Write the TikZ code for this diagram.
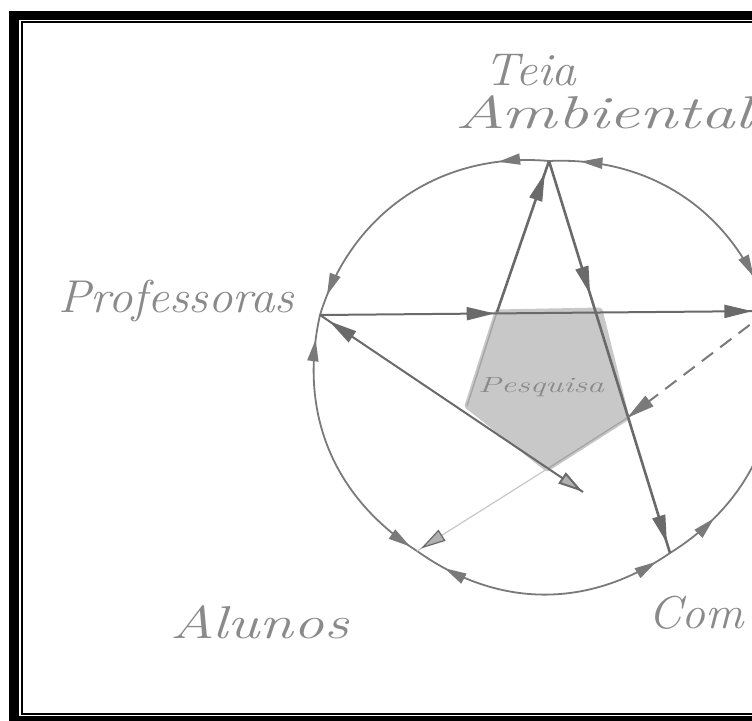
\documentclass[tikz,border=0pt]{standalone}
\usepackage{graphicx}
\usetikzlibrary{arrows.meta,decorations.markings}
\definecolor{inkc}{HTML}{6A6A6A}
\definecolor{arcc}{HTML}{7A7A7A}
\definecolor{txtc}{HTML}{8A8A8A}
\definecolor{shadec}{HTML}{C8C8C8}
\definecolor{faintc}{HTML}{C8C8C8}
\definecolor{holc}{HTML}{B0B0B0}
\begin{document}
\begin{tikzpicture}[x=1pt,y=-1pt,
  harc/.tip={Triangle[length=22pt,width=11pt]},
  hstar/.tip={Triangle[length=28pt,width=13pt]},
  hhol/.tip={Triangle[length=25pt,width=13pt,fill=holc]},
  fw/.style={postaction={decorate,decoration={markings,mark=at position #1 with {\arrow{harc}}}}},
  bw/.style={postaction={decorate,decoration={markings,mark=at position #1 with {\arrowreversed{harc}}}}},
  sfw/.style={postaction={decorate,decoration={markings,mark=at position #1 with {\arrow{hstar}}}}},
  sbw/.style={postaction={decorate,decoration={markings,mark=at position #1 with {\arrowreversed{hstar}}}}},
  hfw/.style={postaction={decorate,decoration={markings,mark=at position #1 with {\arrow[inkc]{hhol}}}}},
  rim/.style={draw=arcc, line width=1.8pt},
  starline/.style={draw=inkc, line width=2.6pt},
  thinstar/.style={draw=inkc, line width=2pt},
  dashline/.style={draw=arcc, line width=2pt, dash pattern=on 14pt off 9pt},
  faintline/.style={draw=faintc, line width=1.2pt},
  lab/.style={text=txtc, inner sep=0pt, anchor=base west},
]
\useasboundingbox (0,0) rectangle (752,720);
\clip (0,0) rectangle (752,720);
% frame
\fill[black] (9,11) rectangle (760,730);
\fill[white] (19,20) rectangle (760,716);
\draw[line width=2pt] (760,22) -- (22,22) -- (22,714) -- (760,714);

% vertices of the star
\coordinate (T) at (549,161);
\coordinate (P) at (320,315);
\coordinate (A) at (417,551);
\coordinate (C) at (670,553);
\coordinate (R) at (768,311);
\coordinate (E) at (583,492);
% inner pentagon
\coordinate (p1) at (497,312);
\coordinate (p2) at (600,310);
\coordinate (p3) at (627,418);
\coordinate (p4) at (547,469);
\coordinate (p5) at (467,406);

\draw[shadec, line width=5pt, line join=round, fill=shadec]
  (p1) -- (p2) -- (p3) -- (p4) -- (p5) -- cycle;
\draw[inkc!60!white, line width=1.4pt] (p1) -- (p5);
\draw[inkc!60!white, line width=1.3pt] (p3) -- (p4);

% circle arcs
\draw[rim, fw=0.17, fw=0.93] (T) to[bend right=39] (P);
\draw[rim, bw=0.09, fw=0.97] (P) to[bend right=35] (A);
\draw[rim, bw=0.12, fw=0.94] (A) to[bend right=35] (C);
\draw[rim, fw=0.2] (C) to[bend right=36] (R);
\draw[rim, bw=0.13, fw=0.89] (R) to[bend right=37] (T);

% star lines
\draw[thinstar, sfw=0.39, sfw=0.965] (P) -- (R);
\draw[starline, sfw=0.34, sfw=0.975] (T) -- (C);
\draw[starline, sfw=0.92] (p1) -- (T);
\draw[thinstar, sbw=0.035, hfw=0.999] (P) -- (E);
\draw[dashline, sfw=0.999] (R) -- (p3);
\draw[faintline, hfw=0.97] (p4) -- (A);

% labels
\node[lab] (teia) at (484,85) {\fontsize{46}{46}\selectfont\itshape\scalebox{1.07}[1]{Teia}};
\node[lab] (amb) at (455,128) {\fontsize{46}{46}\selectfont\itshape\scalebox{1.5}[1]{Ambiental}};
\node[lab] (prof) at (58,312) {\fontsize{46}{46}\selectfont\itshape\scalebox{1.06}[1]{Professoras}};
\node[lab] (alu) at (170,638) {\fontsize{46}{46}\selectfont\itshape\scalebox{1.33}[1]{Alunos}};
\node[lab] (com) at (648,628) {\fontsize{46}{46}\selectfont\itshape\scalebox{1.04}[1]{Com}};
\node[lab] (pesq) at (478,392) {\fontsize{22}{22}\selectfont\itshape\scalebox{1.55}[1]{Pesquisa}};
\end{tikzpicture}
\end{document}
